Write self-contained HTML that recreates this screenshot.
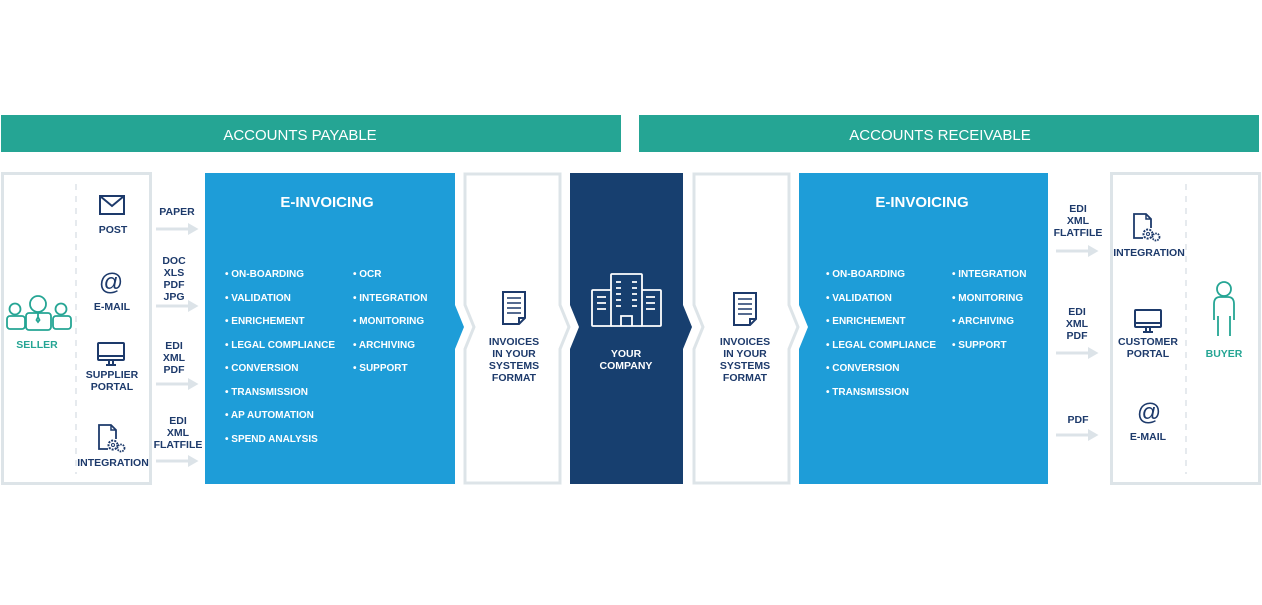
<!DOCTYPE html>
<html><head><meta charset="utf-8"><style>
html,body{margin:0;padding:0;background:#fff;}
body{width:1262px;height:600px;overflow:hidden;}
text{font-family:"Liberation Sans",sans-serif;font-weight:bold;}
</style></head><body>
<svg width="1262" height="600" viewBox="0 0 1262 600" xmlns="http://www.w3.org/2000/svg">
<defs>
<marker id="ah" markerWidth="4" markerHeight="4" refX="2" refY="2" orient="auto" markerUnits="strokeWidth"><path d="M0,0 L3.5,2 L0,4 Z" fill="#dce3e8"/></marker>
<g id="doc"><path d="M0,0 H22 V26 L16,32 H0 Z" fill="#fff" stroke="#1d3a6b" stroke-width="2"/><path d="M16,32 V26 H22" fill="none" stroke="#1d3a6b" stroke-width="2"/><path d="M4,6H18M4,11H18M4,16H18M4,21H18" stroke="#1d3a6b" stroke-width="1.6"/></g>
<g id="integ"><path d="M9,24 H0 V0 H12 L17,5 V14" fill="none" stroke="#1d3a6b" stroke-width="1.8"/><path d="M12,0 V5 H17" fill="none" stroke="#1d3a6b" stroke-width="1.5"/><circle cx="14" cy="20" r="4.5" fill="#fff" stroke="#1d3a6b" stroke-width="2" stroke-dasharray="2 1.2"/><circle cx="14" cy="20" r="1.5" fill="none" stroke="#1d3a6b"/><circle cx="22" cy="23" r="3.5" fill="#fff" stroke="#1d3a6b" stroke-width="1.8" stroke-dasharray="1.6 1"/></g>
<g id="mon"><rect x="0" y="0" width="26" height="17" rx="1" fill="none" stroke="#1d3a6b" stroke-width="2"/><path d="M0,13H26M11,17V21M15,17V21M8,22H18" stroke="#1d3a6b" stroke-width="2"/></g>
</defs>

<rect x="1" y="115" width="620" height="37" fill="#25a594"/>
<rect x="639" y="115" width="620" height="37" fill="#25a594"/>
<text x="300" y="140" font-size="15" fill="#fff" text-anchor="middle" style="font-weight:normal">ACCOUNTS PAYABLE</text>
<text x="940" y="140" font-size="15" fill="#fff" text-anchor="middle" style="font-weight:normal">ACCOUNTS RECEIVABLE</text>

<rect x="2.5" y="173.5" width="148" height="310" fill="#fff" stroke="#dde4e8" stroke-width="3"/>
<line x1="76" y1="184" x2="76" y2="474" stroke="#dde4e8" stroke-width="1.5" stroke-dasharray="6 6"/>
<rect x="1111.5" y="173.5" width="148" height="310" fill="#fff" stroke="#dde4e8" stroke-width="3"/>
<line x1="1186" y1="184" x2="1186" y2="474" stroke="#dde4e8" stroke-width="1.5" stroke-dasharray="6 6"/>

<polygon points="205,173 455,173 455,305 464,327 455,349 455,484 205,484" fill="#1e9dd8"/>
<polygon points="465,174 560,174 560,305 569,327 560,349 560,483 465,483 465,349 474,327 465,305" fill="#fff" stroke="#dde4e8" stroke-width="3"/>
<polygon points="570,173 683,173 683,305 692,327 683,349 683,484 570,484 570,349 579,327 570,305" fill="#173f6f"/>
<polygon points="694,174 789,174 789,305 798,327 789,349 789,483 694,483 694,349 703,327 694,305" fill="#fff" stroke="#dde4e8" stroke-width="3"/>
<polygon points="799,173 1048,173 1048,484 799,484 799,349 808,327 799,305" fill="#1e9dd8"/>

<g font-size="15" fill="#fff" text-anchor="middle">
<text x="327" y="207">E-INVOICING</text>
<text x="922" y="207">E-INVOICING</text>
</g>

<g font-size="10" fill="#fff">
<text x="225" y="277">• ON-BOARDING</text>
<text x="225" y="301">• VALIDATION</text>
<text x="225" y="324">• ENRICHEMENT</text>
<text x="225" y="348">• LEGAL COMPLIANCE</text>
<text x="225" y="371">• CONVERSION</text>
<text x="225" y="395">• TRANSMISSION</text>
<text x="225" y="418">• AP AUTOMATION</text>
<text x="225" y="442">• SPEND ANALYSIS</text>
<text x="353" y="277">• OCR</text>
<text x="353" y="301">• INTEGRATION</text>
<text x="353" y="324">• MONITORING</text>
<text x="353" y="348">• ARCHIVING</text>
<text x="353" y="371">• SUPPORT</text>
<text x="826" y="277">• ON-BOARDING</text>
<text x="826" y="301">• VALIDATION</text>
<text x="826" y="324">• ENRICHEMENT</text>
<text x="826" y="348">• LEGAL COMPLIANCE</text>
<text x="826" y="371">• CONVERSION</text>
<text x="826" y="395">• TRANSMISSION</text>
<text x="952" y="277">• INTEGRATION</text>
<text x="952" y="301">• MONITORING</text>
<text x="952" y="324">• ARCHIVING</text>
<text x="952" y="348">• SUPPORT</text>
</g>

<g stroke="#dce3e8" stroke-width="3" marker-end="url(#ah)">
<line x1="156" y1="229" x2="194" y2="229"/>
<line x1="156" y1="306" x2="194" y2="306"/>
<line x1="156" y1="384" x2="194" y2="384"/>
<line x1="156" y1="461" x2="194" y2="461"/>
<line x1="1056" y1="251" x2="1094" y2="251"/>
<line x1="1056" y1="353" x2="1094" y2="353"/>
<line x1="1056" y1="435" x2="1094" y2="435"/>
</g>

<g font-size="10.5" fill="#1d3a6b" text-anchor="middle">
<text x="177" y="215">PAPER</text>
<text x="174" y="264">DOC</text><text x="174" y="276">XLS</text><text x="174" y="288">PDF</text><text x="174" y="300">JPG</text>
<text x="174" y="349">EDI</text><text x="174" y="361">XML</text><text x="174" y="373">PDF</text>
<text x="178" y="424">EDI</text><text x="178" y="436">XML</text><text x="178" y="448">FLATFILE</text>
<text x="113" y="233">POST</text>
<text x="112" y="310">E-MAIL</text>
<text x="112" y="378">SUPPLIER</text><text x="112" y="390">PORTAL</text>
<text x="113" y="466">INTEGRATION</text>
<text x="514" y="345">INVOICES</text><text x="514" y="357">IN YOUR</text><text x="514" y="369">SYSTEMS</text><text x="514" y="381">FORMAT</text>
<text x="745" y="345">INVOICES</text><text x="745" y="357">IN YOUR</text><text x="745" y="369">SYSTEMS</text><text x="745" y="381">FORMAT</text>
<text x="1078" y="212">EDI</text><text x="1078" y="224">XML</text><text x="1078" y="236">FLATFILE</text>
<text x="1077" y="315">EDI</text><text x="1077" y="327">XML</text><text x="1077" y="339">PDF</text>
<text x="1078" y="423">PDF</text>
<text x="1149" y="256">INTEGRATION</text>
<text x="1148" y="345">CUSTOMER</text><text x="1148" y="357">PORTAL</text>
<text x="1148" y="440">E-MAIL</text>
</g>
<g font-size="10.5" fill="#fff" text-anchor="middle">
<text x="626" y="357">YOUR</text><text x="626" y="369">COMPANY</text>
</g>
<g font-size="10.5" fill="#25a594" text-anchor="middle">
<text x="37" y="348">SELLER</text>
<text x="1224" y="357">BUYER</text>
</g>

<rect x="100" y="196" width="24" height="18" fill="none" stroke="#1d3a6b" stroke-width="2"/>
<path d="M100,196 L112,206 L124,196" fill="none" stroke="#1d3a6b" stroke-width="2"/>
<text x="111" y="290" font-size="24" fill="#1d3a6b" text-anchor="middle" style="font-weight:normal">@</text>
<text x="1149" y="420" font-size="24" fill="#1d3a6b" text-anchor="middle" style="font-weight:normal">@</text>
<use href="#mon" x="98" y="343"/>
<use href="#mon" x="1135" y="310"/>
<use href="#integ" x="99" y="425"/>
<use href="#integ" x="1134" y="214"/>
<use href="#doc" x="503" y="292"/>
<use href="#doc" x="734" y="293"/>

<g fill="none" stroke="#fff" stroke-width="1.8">
<rect x="592" y="290" width="20" height="36" rx="1"/>
<rect x="641" y="290" width="20" height="36" rx="1"/>
<rect x="611" y="274" width="31" height="52" rx="1" fill="#173f6f"/>
<path d="M621,326 V316 H632 V326"/>
<path d="M616,282h5M632,282h5M616,288h5M632,288h5M616,294h5M632,294h5M616,300h5M632,300h5M616,306h5M632,306h5M597,297h9M597,303h9M597,309h9M646,297h9M646,303h9M646,309h9"/>
</g>

<g fill="none" stroke="#25a594" stroke-width="1.8">
<circle cx="15" cy="309" r="5.5"/><rect x="7" y="316" width="18" height="13" rx="3"/>
<circle cx="61" cy="309" r="5.5"/><rect x="53" y="316" width="18" height="13" rx="3"/>
<circle cx="38" cy="304" r="8"/><rect x="26" y="313" width="25" height="17" rx="3" fill="#fff"/>
<path d="M38,313 v4 l-1.5,3 1.5,2 1.5,-2 -1.5,-3"/>
</g>
<g fill="none" stroke="#25a594" stroke-width="1.8">
<circle cx="1224" cy="289" r="7"/>
<path d="M1218,336 V316 M1230,336 V316 M1214,320 V304 Q1214,297 1220,297 H1228 Q1234,297 1234,304 V320"/>
</g>
</svg>
</body></html>
